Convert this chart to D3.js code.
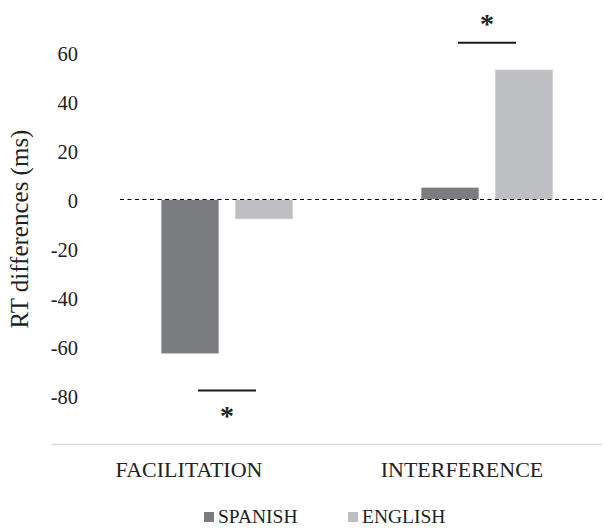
<!DOCTYPE html>
<html>
<head>
<meta charset="utf-8">
<script src="https://cdn.jsdelivr.net/npm/d3@7"></script>
<style>
  html, body { margin: 0; padding: 0; background: #ffffff; }
  svg { display: block; font-family: "Liberation Serif", "Times New Roman", serif; }
</style>
</head>
<body>
<svg id="chart" width="604" height="529"></svg>
<script>
// ---- data ----
const categories = ["FACILITATION", "INTERFERENCE"];
const seriesNames = ["SPANISH", "ENGLISH"];
const spanishValues = [-63, 5];
const englishValues = [-8, 53];
const yTicks = [-80, -60, -40, -20, 0, 20, 40, 60];
const sigCategories = ["FACILITATION", "INTERFERENCE"];
const sigLineValues = [-78, 64];
const sigStarValues = [-87, 73];
const yTitle = "RT differences (ms)";

const colors = { SPANISH: "#7b7c80", ENGLISH: "#bebfc3" };
const FONT = "Liberation Serif, Times New Roman, serif";

const svg = d3.select("#chart");

const y = d3.scaleLinear().domain([-100, 60]).range([444.5, 52.5]);
// bar groups
const x0 = d3.scaleBand().domain(categories).range([97, 617]).padding(0);
const x1 = d3.scaleBand().domain(seriesNames).range([-66, 66]).paddingInner(16 / 74).paddingOuter(0);
// category label bands
const xl = d3.scaleBand().domain(categories).range([52.5, 598.5]).padding(0);

// bottom axis line
svg.append("line")
  .attr("x1", 52).attr("x2", 602)
  .attr("y1", y(-100)).attr("y2", y(-100))
  .attr("stroke", "#d9d9d9").attr("stroke-width", 1.3);

// y tick labels
const yAxis = d3.axisLeft(y).tickValues(yTicks).tickSize(0).tickPadding(0).tickFormat(d => String(d));
const yg = svg.append("g").attr("transform", "translate(78,0)").call(yAxis);
yg.select(".domain").remove();
yg.selectAll("text")
  .attr("font-family", FONT)
  .attr("font-size", 20.5).attr("fill", "#222").attr("dy", 8).attr("x", 0);

// bars
const rows = categories.map((c, i) => ({ cat: c, values: [
  { s: "SPANISH", v: spanishValues[i] },
  { s: "ENGLISH", v: englishValues[i] }
]}));

const groups = svg.append("g").selectAll("g").data(rows).join("g")
  .attr("transform", d => `translate(${x0(d.cat) + x0.bandwidth() / 2},0)`);
groups.selectAll("rect").data(d => d.values).join("rect")
  .attr("x", d => x1(d.s))
  .attr("width", x1.bandwidth())
  .attr("y", d => y(Math.max(0, d.v)))
  .attr("height", d => Math.abs(y(d.v) - y(0)))
  .attr("fill", d => colors[d.s])
  .attr("stroke", "#f2f2f2").attr("stroke-width", 0.8);

// zero dashed line
svg.append("line")
  .attr("x1", 120).attr("x2", 602)
  .attr("y1", y(0)).attr("y2", y(0))
  .attr("stroke", "#000").attr("stroke-width", 1)
  .attr("stroke-dasharray", "4,3.5");

// significance markers
sigCategories.forEach((c, i) => {
  const cx = x0(c) + x0.bandwidth() / 2;
  const w = x1.bandwidth();
  svg.append("line")
    .attr("x1", cx - w / 2).attr("x2", cx + w / 2)
    .attr("y1", y(sigLineValues[i])).attr("y2", y(sigLineValues[i]))
    .attr("stroke", "#1a1a1a").attr("stroke-width", 2);
  svg.append("text")
    .attr("x", cx).attr("y", y(sigStarValues[i]) + 12)
    .attr("text-anchor", "middle")
    .attr("font-family", FONT)
    .attr("font-size", 28).attr("font-weight", "bold").attr("fill", "#222")
    .text("*");
});

// category labels
svg.append("g").selectAll("text").data(categories).join("text")
  .attr("x", d => xl(d) + xl.bandwidth() / 2)
  .attr("y", 477)
  .attr("text-anchor", "middle")
  .attr("font-family", FONT)
  .attr("font-size", 22).attr("fill", "#222")
  .text(d => d);

// y title
svg.append("text")
  .attr("transform", "translate(28,229) rotate(-90)")
  .attr("text-anchor", "middle")
  .attr("font-family", FONT)
  .attr("font-size", 25).attr("fill", "#222")
  .text(yTitle);

// legend
const legendX = [204, 348];
const lg = svg.append("g").selectAll("g").data(seriesNames).join("g")
  .attr("transform", (d, i) => `translate(${legendX[i]},512)`);
lg.append("rect").attr("width", 10).attr("height", 10).attr("fill", d => colors[d]);
lg.append("text").attr("x", 14).attr("y", 11)
  .attr("font-family", FONT)
  .attr("font-size", 19.5).attr("fill", "#222").text(d => d);
</script>
</body>
</html>
